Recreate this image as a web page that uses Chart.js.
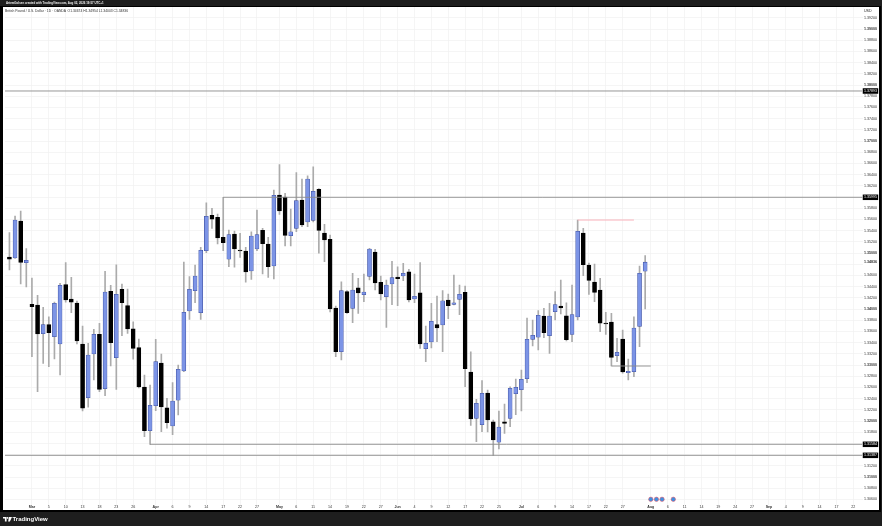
<!DOCTYPE html>
<html>
<head>
<meta charset="utf-8">
<title>GBPUSD 1D</title>
<script src="https://cdn.jsdelivr.net/npm/chart.js@4"></script>
<style>
  html, body { margin: 0; padding: 0; background: #1e1e1e; }
  body { width: 882px; height: 526px; position: relative; overflow: hidden; font-family: "Liberation Sans", Arial, sans-serif; }
  #frame { position: absolute; left: 0; top: 6px; width: 881px; height: 506px; background: #000; }
  #paper { position: absolute; left: 2.7px; top: 7px; width: 876.5px; height: 503px; background: #fff; }
  canvas { position: absolute; left: 0; top: 0; }
  .txt { position: absolute; white-space: nowrap; }
  #credit { left: 6px; top: 1px; font-size: 2.9px; line-height: 4px; color: #eee; font-weight: bold; }
  #legend { left: 5px; top: 8.8px; font-size: 3.35px; line-height: 4px; color: #333; }
  #currency { left: 864px; top: 9px; font-size: 3.6px; line-height: 4px; color: #222; }
  #brand { left: 12.5px; top: 515.5px; font-size: 6px; line-height: 7px; color: #fff; font-weight: bold; }
  #logo { position: absolute; left: 3px; top: 516.5px; }
</style>
</head>
<body>
<div id="frame"></div>
<div id="paper"></div>
<canvas id="chart" width="882" height="526"></canvas>
<div class="txt" id="credit">ArtemGolsen created with TradingView.com, Aug 02, 2026 19:57 UTC+1</div>
<div class="txt" id="legend">British Pound / U.S. Dollar · 1D · OANDA &nbsp;O1.34674 H1.34954 L1.34003 C1.34836</div>
<div class="txt" id="currency">USD</div>
<svg id="logo" width="9" height="5" viewBox="0 0 9 5"><path d="M0 0h3.6v4.6H1.9V1.5H0z M6 0h3L6.9 4.6H5.1z" fill="#fff"/><circle cx="4.6" cy="0.9" r="0.9" fill="#fff"/></svg>
<div class="txt" id="brand">TradingView</div>

<script>
// daily candles, Feb 24 to Jul 31
const opens = [
  1.34929, 1.34911, 1.35571, 1.34827, 1.34084, 1.34071, 1.33559, 1.3372, 1.33505, 1.33375,
  1.34434, 1.34179, 1.34107, 1.33375, 1.32416, 1.33196, 1.33548, 1.32577, 1.34316, 1.3313,
  1.34352, 1.34059, 1.33648, 1.33309, 1.32607, 1.31827, 1.32273, 1.33036, 1.32237, 1.31911,
  1.3237, 1.32893, 1.33964, 1.34327, 1.33934, 1.35041, 1.35673, 1.35638, 1.3528, 1.34888,
  1.35339, 1.35054, 1.35036, 1.34679, 1.35071, 1.35405, 1.35161, 1.34768, 1.36036, 1.36,
  1.35309, 1.35441, 1.35946, 1.35554, 1.35584, 1.36138, 1.35357, 1.35245, 1.34018, 1.33237,
  1.34309, 1.34012, 1.3438, 1.34255, 1.34584, 1.35018, 1.34477, 1.3422, 1.34446, 1.34571,
  1.34589, 1.34666, 1.34179, 1.34291, 1.33291, 1.33411, 1.3372, 1.33714, 1.34161, 1.34084,
  1.34173, 1.34298, 1.32875, 1.32048, 1.31934, 1.325, 1.31987, 1.3162, 1.31987, 1.32048,
  1.32487, 1.32559, 1.32755, 1.33459, 1.33495, 1.33875, 1.33523, 1.33952, 1.34054, 1.3388,
  1.33545, 1.33857, 1.35357, 1.34786, 1.34482, 1.34339, 1.3375, 1.33768, 1.33166, 1.33464,
  1.32862, 1.3288, 1.33691, 1.34674
];
const highs = [
  1.35363, 1.35661, 1.3575, 1.35077, 1.34554, 1.34245, 1.3403, 1.33862, 1.34125, 1.34459,
  1.34827, 1.34566, 1.34143, 1.33696, 1.33387, 1.33637, 1.33745, 1.34673, 1.34423, 1.34791,
  1.34446, 1.34357, 1.33773, 1.33464, 1.32821, 1.32643, 1.33459, 1.33196, 1.32405, 1.32684,
  1.33, 1.34839, 1.34577, 1.34786, 1.35102, 1.35898, 1.35798, 1.35696, 1.35995, 1.35411,
  1.35393, 1.35352, 1.35102, 1.3538, 1.35768, 1.35441, 1.3528, 1.36125, 1.36577, 1.36066,
  1.35786, 1.36434, 1.36321, 1.3638, 1.36541, 1.36152, 1.35513, 1.35321, 1.34054, 1.34487,
  1.34327, 1.34637, 1.34548, 1.34625, 1.35084, 1.35066, 1.34589, 1.34518, 1.34852, 1.34755,
  1.34816, 1.34709, 1.34625, 1.34827, 1.33696, 1.34102, 1.34232, 1.34327, 1.34268, 1.34607,
  1.34429, 1.34411, 1.33237, 1.32387, 1.3272, 1.32554, 1.32018, 1.32179, 1.32304, 1.32612,
  1.3275, 1.32911, 1.33839, 1.33804, 1.3397, 1.34012, 1.34102, 1.34309, 1.34518, 1.34112,
  1.34429, 1.35589, 1.35441, 1.34821, 1.34804, 1.34548, 1.33941, 1.33923, 1.33477, 1.33625,
  1.33107, 1.33862, 1.34768, 1.34954
];
const lows = [
  1.34696, 1.34902, 1.34446, 1.34393, 1.33148, 1.32523, 1.3303, 1.3297, 1.33107, 1.32821,
  1.3412, 1.33934, 1.33375, 1.32179, 1.32245, 1.32732, 1.32523, 1.32452, 1.32982, 1.32566,
  1.33523, 1.33566, 1.33102, 1.32589, 1.3172, 1.31584, 1.32184, 1.31809, 1.3187, 1.31755,
  1.32107, 1.3288, 1.33816, 1.34112, 1.33816, 1.35005, 1.35441, 1.35161, 1.35041, 1.34755,
  1.34745, 1.34923, 1.34477, 1.3453, 1.35041, 1.34625, 1.34566, 1.34536, 1.35691, 1.35125,
  1.35125, 1.3538, 1.3547, 1.3547, 1.35554, 1.34995, 1.34845, 1.33946, 1.33148, 1.33089,
  1.33923, 1.33755, 1.33923, 1.3413, 1.34518, 1.34339, 1.34161, 1.33673, 1.34077, 1.34059,
  1.34505, 1.34125, 1.34112, 1.33298, 1.33059, 1.33304, 1.33416, 1.33237, 1.33827, 1.34071,
  1.33898, 1.32612, 1.31923, 1.3163, 1.31809, 1.31804, 1.31387, 1.315, 1.3178, 1.31898,
  1.32112, 1.32179, 1.32684, 1.33339, 1.33268, 1.33487, 1.33209, 1.33804, 1.33911, 1.33429,
  1.33416, 1.33804, 1.34595, 1.34262, 1.3413, 1.33595, 1.33548, 1.32982, 1.33059, 1.32852,
  1.32732, 1.32791, 1.33327, 1.34003
];
const closes = [
  1.34888, 1.35589, 1.34834, 1.3487, 1.34041, 1.33554, 1.3372, 1.33577, 1.34102, 1.34423,
  1.34161, 1.3412, 1.33429, 1.32227, 1.33179, 1.33548, 1.32566, 1.34304, 1.33398, 1.34262,
  1.34112, 1.33643, 1.33298, 1.32607, 1.31827, 1.3228, 1.33059, 1.3225, 1.3197, 1.32357,
  1.32923, 1.33941, 1.34352, 1.34589, 1.35048, 1.35655, 1.35602, 1.35268, 1.35184, 1.35327,
  1.35071, 1.35036, 1.34661, 1.35304, 1.35327, 1.35166, 1.34755, 1.3603, 1.3575, 1.35316,
  1.3538, 1.35934, 1.355, 1.36321, 1.36102, 1.35405, 1.35232, 1.34005, 1.33237, 1.34327,
  1.33934, 1.34339, 1.34286, 1.34304, 1.35071, 1.34464, 1.34268, 1.34429, 1.34559, 1.34541,
  1.34637, 1.34161, 1.34227, 1.33375, 1.33387, 1.3378, 1.33661, 1.34148, 1.34059, 1.34112,
  1.34262, 1.32934, 1.32036, 1.32316, 1.32495, 1.32018, 1.31661, 1.31893, 1.31959, 1.32584,
  1.32602, 1.32745, 1.33459, 1.3353, 1.33887, 1.33577, 1.33875, 1.34077, 1.34018, 1.33452,
  1.33902, 1.35388, 1.34791, 1.34512, 1.34298, 1.33745, 1.33732, 1.33137, 1.33227, 1.32875,
  1.32887, 1.33661, 1.34637, 1.34836
];

const priceTicks = [
  1.306, 1.308, 1.31, 1.312, 1.314, 1.316, 1.318, 1.32, 1.322, 1.324, 1.326, 1.328,
  1.33, 1.332, 1.334, 1.336, 1.338, 1.34, 1.342, 1.344, 1.346, 1.348, 1.35, 1.352,
  1.354, 1.356, 1.358, 1.36, 1.362, 1.364, 1.366, 1.368, 1.37, 1.372, 1.374, 1.376,
  1.378, 1.38, 1.382, 1.384, 1.386, 1.388, 1.39, 1.392
];
const boldPrices = [1.31, 1.32, 1.33, 1.34, 1.35, 1.36, 1.37, 1.38, 1.39];
const coveredPrices = [1.314, 1.316, 1.348, 1.36];   // tick text hidden behind a tag
const levelPrices = [1.37893, 1.35995, 1.31584, 1.31387];
const lastPrice = 1.34836;

const timeTickBars = [
  4, 7, 10, 13, 16, 19, 22, 26, 29, 32, 35, 38, 41, 44, 48, 51, 54, 57, 60, 63, 66, 69, 72, 75,
  78, 81, 84, 87, 91, 94, 97, 100, 103, 106, 109, 114, 117, 120, 123, 126, 129, 132, 135, 138, 141, 144, 147, 150
];
const timeTickLabels = [
  'Mar', '5', '10', '13', '18', '23', '26', 'Apr', '6', '9', '14', '17', '22', '27', 'May', '6', '11', '14', '19', '22', '27', 'Jun', '4', '9',
  '12', '17', '22', '25', 'Jul', '6', '9', '14', '17', '22', '27', 'Aug', '6', '11', '14', '19', '24', '27', 'Sep', '4', '9', '14', '17', '22'
];
const monthLabels = ['Mar', 'Apr', 'May', 'Jun', 'Jul', 'Aug', 'Sep'];

// drawn levels: first bar, last bar, price
const rayStarts = [-0.79, 38, 25, -0.79, 101, 107];
const rayEnds = [151.63, 151.63, 151.63, 151.63, 111, 114];
const rayPrices = [1.37893, 1.35995, 1.31584, 1.31387, 1.35589, 1.32982];
const rayColors = ['#8b8b8b', '#8b8b8b', '#8b8b8b', '#8b8b8b', '#f7a9b2', '#8b8b8b'];

const eventBars = [114, 115, 116, 118];
const eventPrice = 1.30602;

const UP = '#7c94e6', UP_EDGE = '#3d4f9f', DOWN = '#000000';
const barColor = opens.map((o, i) => closes[i] >= o ? UP : DOWN);
const edgeColor = opens.map((o, i) => closes[i] >= o ? UP_EDGE : DOWN);

const isLevel = ctx => !!ctx.tick && levelPrices.includes(ctx.tick.value);
const isBoldPrice = ctx => !!ctx.tick && (boldPrices.includes(ctx.tick.value) || ctx.tick.value === lastPrice);

const datasets = [
  {
    type: 'bar',
    order: 3,
    grouped: false,
    barThickness: 1,
    backgroundColor: '#ababab',
    data: lows.map((l, i) => ({ x: i, y: [l, highs[i]] }))
  },
  {
    type: 'bar',
    order: 2,
    grouped: false,
    barThickness: 4,
    backgroundColor: barColor,
    borderColor: edgeColor,
    borderWidth: 0.6,
    borderSkipped: false,
    data: opens.map((o, i) => ({ x: i, y: [o, closes[i]] }))
  },
  {
    type: 'scatter',
    order: 1,
    pointRadius: 2.2,
    backgroundColor: '#3f8fe0',
    borderColor: 'rgba(240, 90, 100, 0.55)',
    borderWidth: 1,
    data: eventBars.map(b => ({ x: b, y: eventPrice }))
  }
];

rayPrices.forEach((p, i) => {
  datasets.push({
    type: 'line',
    order: 1,
    borderColor: rayColors[i],
    borderWidth: 0.9,
    pointRadius: 0,
    data: [{ x: rayStarts[i], y: p }, { x: rayEnds[i], y: p }]
  });
});

new Chart(document.getElementById('chart'), {
  data: { datasets: datasets },
  options: {
    responsive: false,
    animation: false,
    layout: { padding: { left: 3, top: 7, right: 2.5, bottom: 16 } },
    plugins: { legend: { display: false }, tooltip: { enabled: false } },
    scales: {
      x: {
        type: 'linear',
        offset: false,
        min: -0.7874,
        max: 151.63,
        border: { display: false },
        grid: { color: '#f3f3f3', lineWidth: 0.8, drawTicks: false, offset: false },
        afterFit: scale => { scale.height = 5.5; },
        afterBuildTicks: scale => { scale.ticks = timeTickBars.map(b => ({ value: b })); },
        ticks: {
          autoSkip: false,
          maxRotation: 0,
          padding: 0.5,
          color: '#333',
          font: ctx => ({
            size: 3.6,
            family: 'Liberation Sans',
            weight: (ctx.tick && monthLabels.includes(ctx.tick.label)) ? 'bold' : 'normal'
          }),
          callback: (value, index) => timeTickLabels[index]
        }
      },
      y: {
        position: 'right',
        min: 1.30509,
        max: 1.39393,
        border: { display: false },
        grid: {
          drawTicks: false,
          lineWidth: 0.8,
          color: ctx => (ctx.tick && priceTicks.includes(ctx.tick.value)) ? '#f3f3f3' : 'rgba(0,0,0,0)'
        },
        afterFit: scale => { scale.width = 17; },
        afterBuildTicks: scale => {
          scale.ticks = priceTicks.concat(levelPrices, [lastPrice]).map(v => ({ value: v }));
        },
        ticks: {
          autoSkip: false,
          padding: 1.5,
          showLabelBackdrop: isLevel,
          backdropColor: ctx => isLevel(ctx) ? '#000' : 'rgba(0,0,0,0)',
          backdropPadding: { left: 1.5, right: 1.2, top: 0.6, bottom: 0.6 },
          color: ctx => isLevel(ctx) ? '#fff' : '#333',
          font: ctx => ({
            size: 3.6,
            family: 'Liberation Sans',
            weight: isBoldPrice(ctx) ? 'bold' : 'normal'
          }),
          callback: value => coveredPrices.includes(value) ? '' : value.toFixed(5)
        }
      }
    }
  }
});
</script>
</body>
</html>
